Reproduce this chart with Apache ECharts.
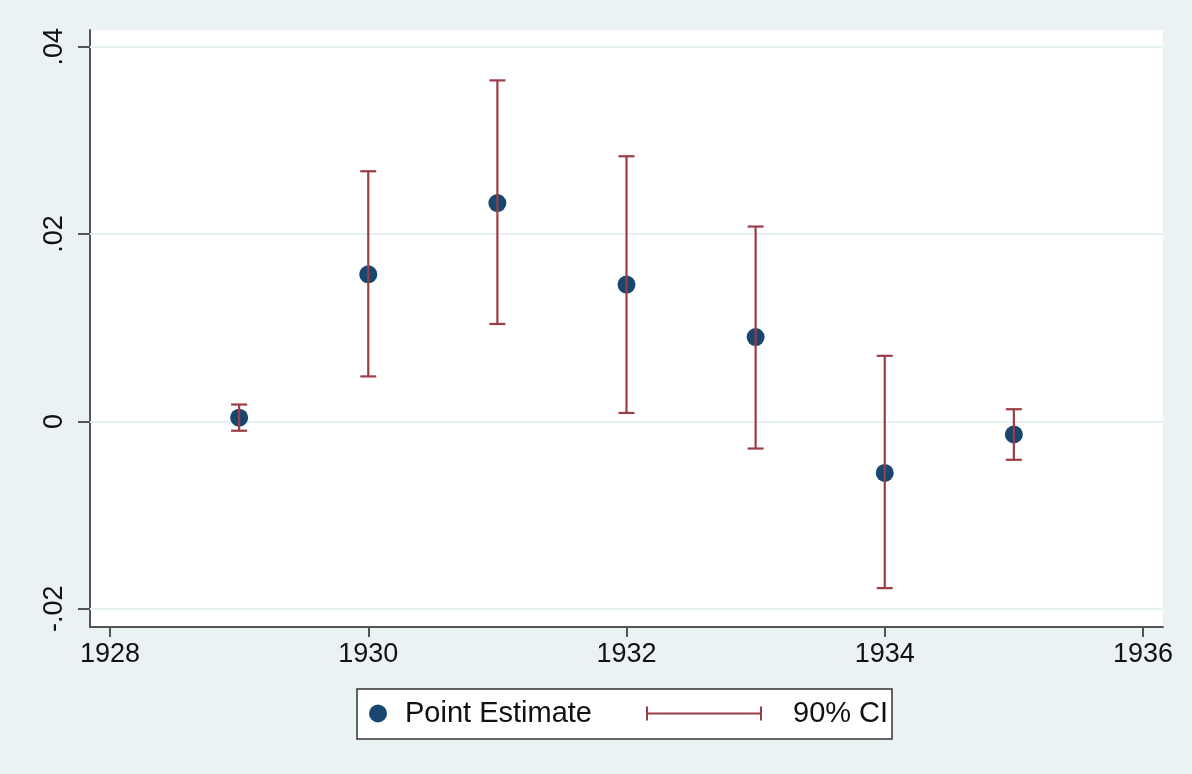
<!DOCTYPE html>
<html>
<head>
<meta charset="utf-8">
<script src="https://cdn.jsdelivr.net/npm/echarts@6/dist/echarts.min.js"></script>
<style>
  html, body { margin: 0; padding: 0; background: #eaf2f3; }
  #chart { width: 1192px; height: 774px; }
</style>
</head>
<body>
<div id="chart"></div>
<script>
// data
var years = [1929, 1930, 1931, 1932, 1933, 1934, 1935];
var estimate = [0.0004, 0.0157, 0.0233, 0.0146, 0.0090, -0.0055, -0.0014];
var ciLow = [-0.0010, 0.0048, 0.0104, 0.0009, -0.0029, -0.0178, -0.0041];
var ciHigh = [0.0018, 0.0267, 0.0364, 0.0283, 0.0208, 0.0070, 0.0013];
var xTicks = [1928, 1930, 1932, 1934, 1936];
var yTicks = [-0.02, 0, 0.02, 0.04];

var navy = '#1a476f';
var maroon = '#9a3d45';
var font = 'Liberation Sans, Arial, sans-serif';

var pointData = [];
var ciData = [];
for (var i = 0; i < years.length; i++) {
    pointData.push([years[i], estimate[i]]);
    ciData.push([years[i], ciLow[i], ciHigh[i]]);
}

function yFmt(v) {
    if (Math.abs(v) < 1e-9) return '0';
    var s = v.toFixed(2);
    return s.replace('0.', '.');
}

var myChart = echarts.init(document.getElementById('chart'));
var option = {
    backgroundColor: '#eaf2f3',
    animation: false,
    textStyle: { fontFamily: font },
    grid: {
        left: 90, right: 29, top: 30, bottom: 147,
        show: true,
        backgroundColor: '#ffffff',
        borderWidth: 0
    },
    xAxis: {
        type: 'value',
        min: 1927.845,
        max: 1936.155,
        axisLine: { show: true, onZero: false, lineStyle: { color: '#555', width: 2 } },
        axisTick: { show: true, customValues: xTicks, length: 10, lineStyle: { color: '#555', width: 2 } },
        axisLabel: {
            customValues: xTicks,
            margin: 14,
            color: '#111',
            fontSize: 27,
            fontFamily: font,
            formatter: function (v) { return String(Math.round(v)); }
        },
        splitLine: { show: false }
    },
    yAxis: {
        type: 'value',
        min: -0.02195,
        max: 0.04178,
        axisLine: { show: true, onZero: false, lineStyle: { color: '#555', width: 2 } },
        axisTick: { show: true, customValues: yTicks, length: 12, lineStyle: { color: '#555', width: 2 } },
        axisLabel: {
            customValues: yTicks,
            rotate: 90,
            margin: 22,
            color: '#111',
            fontSize: 27,
            fontFamily: font,
            formatter: yFmt
        },
        splitLine: { show: false }
    },
    legend: [{
        left: 364, top: 694,
        data: [{ name: 'Point Estimate', icon: 'circle' }],
        itemWidth: 18, itemHeight: 18,
        textStyle: { fontSize: 29, color: '#111', fontFamily: font, padding: [0, 0, 0, 13] },
        selectedMode: false
    }, {
        left: 641, top: 694,
        data: [{ name: '90% CI', icon: 'path://M0,0H2V6H114V0H116V14H114V8H2V14H0Z' }],
        itemWidth: 116, itemHeight: 14,
        itemStyle: { color: maroon },
        textStyle: { fontSize: 29, color: '#111', fontFamily: font, padding: [0, 0, 0, 26] },
        selectedMode: false
    }],
    graphic: [{
        type: 'rect',
        z: -1,
        shape: { x: 357, y: 689, width: 535, height: 50 },
        style: { fill: '#ffffff', stroke: '#333', lineWidth: 1.5 }
    }],
    series: [{
        name: 'Point Estimate',
        type: 'scatter',
        data: pointData,
        symbol: 'circle',
        symbolSize: 18,
        itemStyle: { color: navy, opacity: 1 },
        z: 2,
        markLine: {
            silent: true,
            symbol: 'none',
            label: { show: false },
            lineStyle: { color: '#e6eff1', width: 2, type: 'solid' },
            data: yTicks.map(function (v) { return { yAxis: v }; }),
            z: 1
        }
    }, {
        name: '90% CI',
        type: 'custom',
        data: ciData,
        z: 3,
        itemStyle: { color: maroon },
        renderItem: function (params, api) {
            var lo = api.coord([api.value(0), api.value(1)]);
            var hi = api.coord([api.value(0), api.value(2)]);
            var half = 8;
            var st = { stroke: maroon, lineWidth: 2.2 };
            return {
                type: 'group',
                children: [
                    { type: 'line', shape: { x1: lo[0], y1: lo[1], x2: hi[0], y2: hi[1] }, style: st },
                    { type: 'line', shape: { x1: lo[0] - half, y1: lo[1], x2: lo[0] + half, y2: lo[1] }, style: st },
                    { type: 'line', shape: { x1: hi[0] - half, y1: hi[1], x2: hi[0] + half, y2: hi[1] }, style: st }
                ]
            };
        }
    }]
};
myChart.setOption(option);
</script>
</body>
</html>
